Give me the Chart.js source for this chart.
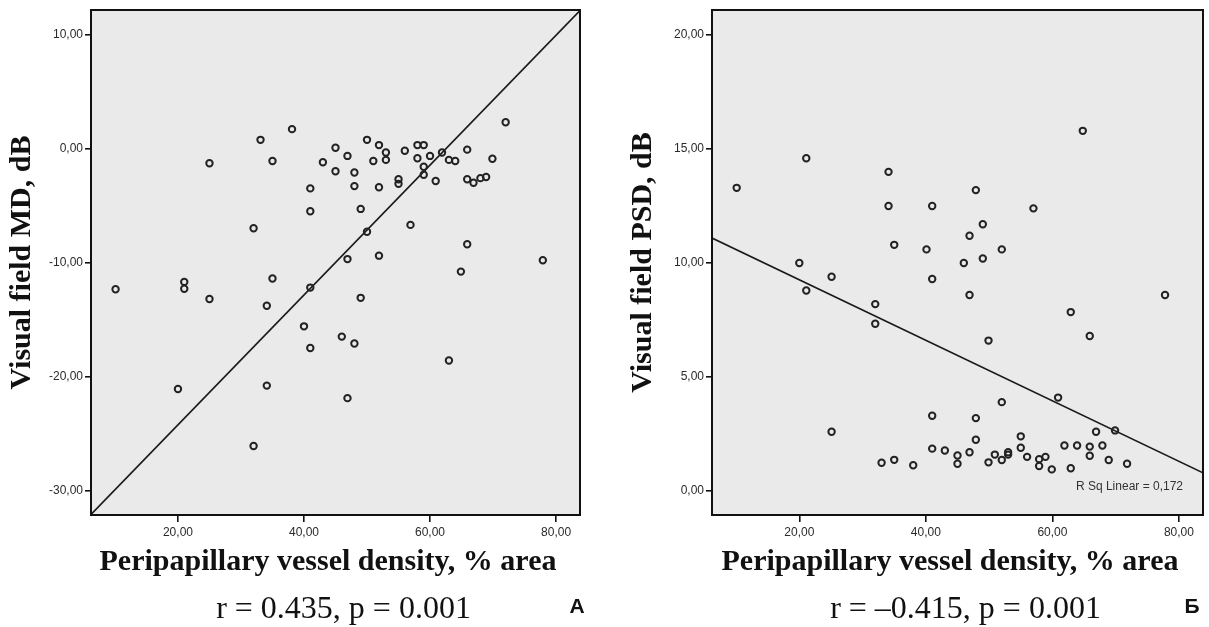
<!DOCTYPE html>
<html>
<head>
<meta charset="utf-8">
<script src="https://cdn.jsdelivr.net/npm/chart.js@4"></script>
<style>
  html, body { margin: 0; padding: 0; background: #fff; }
  body { width: 1209px; height: 627px; position: relative; overflow: hidden; }
  canvas { position: absolute; top: 0; }
  #chartMD { left: 0; }
  #chartPSD { left: 621px; }
</style>
</head>
<body>
<canvas id="chartMD" width="600" height="627"></canvas>
<canvas id="chartPSD" width="588" height="627"></canvas>
<script>
// --- Data ---
const xTicks = [20, 40, 60, 80];
const mdTicks = [-30, -20, -10, 0, 10];
const psdTicks = [0, 5, 10, 15, 20];
const xRange = [6.2, 83.8];

// A: vessel density vs MD
const mdX = [10.1, 21.0, 21.0, 25.0, 25.0, 32.0, 33.1, 34.1, 35.0, 35.0, 38.1, 41.0, 41.0, 41.0, 43.0, 45.0,
  45.0, 46.9, 46.9, 48.0, 48.0, 49.0, 49.0, 50.0, 50.0, 51.0, 51.9, 51.9, 51.9, 53.0, 53.0, 55.0,
  55.0, 56.0, 56.9, 58.0, 58.0, 59.0, 59.0, 59.0, 60.0, 60.9, 61.9, 63.0, 64.0, 64.9, 65.9, 65.9,
  65.9, 66.9, 68.0, 68.9, 69.9, 72.0, 77.9, 40.0, 46.0, 48.0, 41.0, 63.0, 20.0, 34.1, 46.9, 32.0];
const mdY = [-12.35, -11.7, -12.3, -1.3, -13.2, -7.0, 0.76, -13.8, -1.1, -11.4, 1.7, -3.5, -5.5, -12.2, -1.2, 0.06,
  -2.0, -0.65, -9.7, -2.1, -3.3, -5.3, -13.1, 0.76, -7.3, -1.1, 0.3, -3.4, -9.4, -0.35, -1.0, -2.7,
  -3.1, -0.2, -6.7, 0.3, -0.85, 0.3, -1.6, -2.3, -0.65, -2.85, -0.35, -1.0, -1.1, -10.8, -0.1, -2.7,
  -8.4, -3.0, -2.6, -2.5, -0.9, 2.3, -9.8, -15.6, -16.5, -17.1, -17.5, -18.6, -21.1, -20.8, -21.9, -26.1];
const mdFitX = [6.2, 83.8];
const mdFitY = [-32.1, 12.1];

// Б: vessel density vs PSD
const psdX = [10.1, 21.1, 20.0, 21.1, 25.1, 34.1, 34.1, 35.0, 32.0, 40.1, 41.0, 41.0, 46.0, 46.9, 46.9, 47.9,
  49.0, 49.0, 52.0, 57.0, 64.8, 62.9, 77.8, 32.0, 49.9, 65.9, 60.9, 52.0, 41.0, 47.9, 25.1, 47.9,
  55.0, 66.9, 69.9, 41.0, 43.0, 45.0, 45.0, 46.9, 50.9, 53.0, 53.0, 55.0, 56.0, 49.9, 52.0, 57.9,
  57.9, 58.9, 59.9, 61.9, 62.9, 63.9, 65.9, 65.9, 67.9, 68.9, 71.8, 33.0, 35.0, 38.0];
const psdY = [13.3, 14.6, 10.0, 8.8, 9.4, 14.0, 12.5, 10.8, 8.2, 10.6, 12.5, 9.3, 10.0, 11.2, 8.6, 13.2,
  11.7, 10.2, 10.6, 12.4, 15.8, 7.85, 8.6, 7.34, 6.6, 6.8, 4.1, 3.9, 3.3, 3.2, 2.6, 2.25,
  2.4, 2.6, 2.66, 1.86, 1.78, 1.56, 1.2, 1.7, 1.6, 1.7, 1.6, 1.9, 1.5, 1.26, 1.36, 1.4,
  1.1, 1.5, 0.95, 2.0, 1.0, 2.0, 1.95, 1.55, 2.0, 1.36, 1.2, 1.24, 1.37, 1.13];
const psdFitX = [6.2, 83.8];
const psdFitY = [11.1, 0.8];

// --- Helpers ---
const fmt = v => Number(v).toFixed(2).replace('.', ',');
const zip = (xs, ys) => xs.map((x, i) => ({ x, y: ys[i] }));
const tickFont = { family: 'Liberation Sans, Arial, sans-serif', size: 12 };
const titleFont = { family: 'Liberation Serif, Times New Roman, serif', size: 30, weight: 'bold' };

// grey plot box, black frame, caption under the chart
const framePlugin = {
  id: 'frame',
  beforeDraw(chart) {
    const { ctx, chartArea: a } = chart;
    ctx.save();
    ctx.fillStyle = '#eaeaea';
    ctx.fillRect(a.left, a.top, a.width, a.height);
    ctx.restore();
  },
  afterDatasetsDraw(chart) {
    const { ctx, chartArea: a } = chart;
    ctx.save();
    ctx.strokeStyle = '#111';
    ctx.lineWidth = 2;
    ctx.strokeRect(a.left, a.top, a.width, a.height);
    ctx.restore();
  },
  afterDraw(chart, args, opts) {
    const { ctx, chartArea: a } = chart;
    ctx.save();
    ctx.fillStyle = '#111';
    ctx.textAlign = 'center';
    ctx.textBaseline = 'alphabetic';
    ctx.font = '32px "Liberation Serif", "Times New Roman", serif';
    ctx.fillText(opts.stat, (a.left + a.right) / 2 + 8, 618);
    ctx.font = 'bold 21px "Liberation Sans", Arial, sans-serif';
    ctx.fillText(opts.letter, a.right + opts.letterDx, 613);
    if (opts.rsq) {
      ctx.fillStyle = '#333';
      ctx.textAlign = 'right';
      ctx.textBaseline = 'middle';
      ctx.font = '12px "Liberation Sans", Arial, sans-serif';
      ctx.fillText(opts.rsq, a.right - 20, a.bottom - 28);
    }
    ctx.restore();
  }
};

function xAxis() {
  return {
    type: 'linear',
    min: xRange[0],
    max: xRange[1],
    afterBuildTicks: s => { s.ticks = xTicks.map(v => ({ value: v })); },
    afterFit: s => { s.height = 65; },
    border: { display: false },
    grid: { drawOnChartArea: false, tickLength: 7, color: '#111', lineWidth: 1.6 },
    ticks: { padding: 3, color: '#2a2a2a', font: tickFont, autoSkip: false, maxRotation: 0, callback: fmt },
    title: {
      display: true,
      text: 'Peripapillary vessel density, % area  ',
      color: '#111', font: titleFont, padding: 0
    }
  };
}

function yAxis(ticks, min, max, label) {
  return {
    type: 'linear',
    min, max,
    afterBuildTicks: s => { s.ticks = ticks.map(v => ({ value: v })); },
    afterFit: s => { s.width = 91; },
    border: { display: false },
    grid: { drawOnChartArea: false, tickLength: 6, color: '#111', lineWidth: 1.6 },
    ticks: { padding: 2, color: '#2a2a2a', font: tickFont, autoSkip: false, callback: fmt },
    title: { display: true, text: label, color: '#111', font: titleFont, padding: { top: 4, bottom: 0 } }
  };
}

function makeChart(id, pts, fit, y, pad, frame) {
  const ctx = document.getElementById(id).getContext('2d');
  return new Chart(ctx, {
    type: 'scatter',
    data: {
      datasets: [{
        data: pts,
        pointRadius: 3.2,
        pointBorderWidth: 2,
        pointBorderColor: '#222',
        pointBackgroundColor: 'rgba(0,0,0,0)'
      }, {
        data: fit,
        showLine: true,
        borderColor: '#1a1a1a',
        borderWidth: 1.7,
        pointRadius: 0,
        fill: false
      }]
    },
    options: {
      responsive: false,
      animation: false,
      layout: { padding: pad },
      plugins: { legend: { display: false }, tooltip: { enabled: false }, frame },
      scales: { x: xAxis(), y }
    },
    plugins: [framePlugin]
  });
}

makeChart('chartMD', zip(mdX, mdY), zip(mdFitX, mdFitY),
  yAxis(mdTicks, -32.15, 12.15, 'Visual field MD, dB'),
  { left: 0, right: 20, top: 10, bottom: 47 },
  { stat: 'r = 0.435, p = 0.001', letter: 'А', letterDx: -3, rsq: null });

makeChart('chartPSD', zip(psdX, psdY), zip(psdFitX, psdFitY),
  yAxis(psdTicks, -1.05, 21.1, 'Visual field PSD, dB'),
  { left: 0, right: 3, top: 10, bottom: 47 },
  { stat: 'r = \u20130.415, p = 0.001', letter: 'Б', letterDx: -11, rsq: 'R Sq Linear = 0,172' });
</script>
</body>
</html>
